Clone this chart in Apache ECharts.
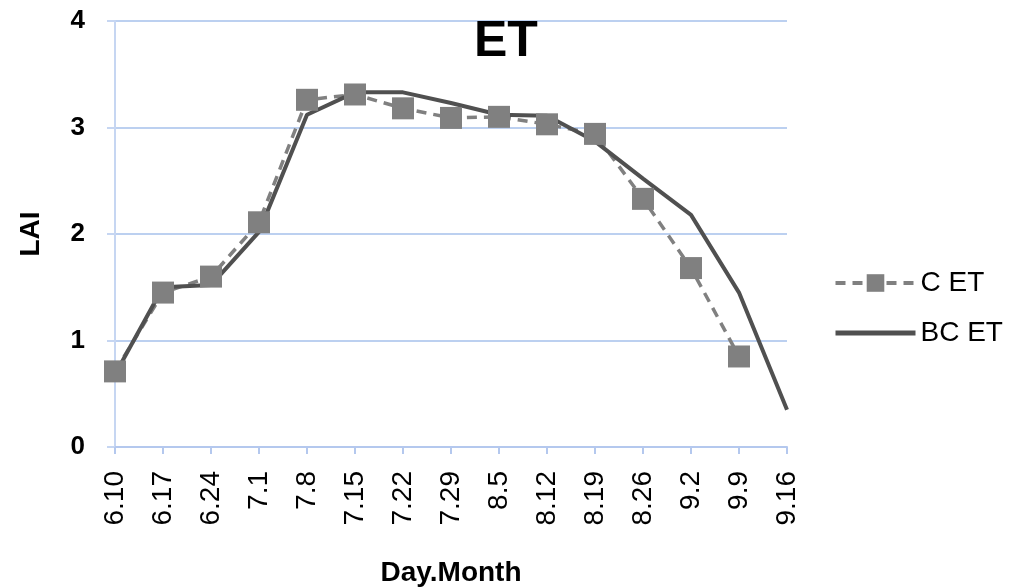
<!DOCTYPE html>
<html><head><meta charset="utf-8">
<script src="https://cdn.jsdelivr.net/npm/echarts@6/dist/echarts.min.js"></script>
<style>html,body{margin:0;padding:0;background:#fff}#c{width:1021px;height:588px}</style>
</head><body><div id="c"></div>
<script>
var categories = ['6.10','6.17','6.24','7.1','7.8','7.15','7.22','7.29','8.5','8.12','8.19','8.26','9.2','9.9','9.16'];
var cET = [0.71,1.45,1.60,2.11,3.26,3.31,3.18,3.09,3.10,3.03,2.94,2.33,1.68,0.85,null];
var bcET = [0.68,1.50,1.52,2.02,3.12,3.33,3.33,3.23,3.12,3.11,2.87,2.52,2.18,1.45,0.35];
var yTicks = [0,1,2,3,4];

var chart = echarts.init(document.getElementById('c'));
var F = 'Liberation Sans, Arial, sans-serif';
chart.setOption({
  animation:false,
  backgroundColor:'#fff',
  title:{text:'ET',left:469,top:12,textStyle:{fontFamily:F,fontSize:50,fontWeight:'bold',color:'#000'}},
  legend:{orient:'vertical',left:828,top:264,itemWidth:80,itemHeight:22,itemGap:22,
    textStyle:{fontFamily:F,fontSize:28,color:'#000'},
    data:[{name:'C ET',lineStyle:{width:4}},{name:'BC ET',itemStyle:{opacity:0},lineStyle:{width:5}}]},
  grid:{left:115,right:234,top:21,bottom:141,outerBoundsMode:'none',containLabel:false},
  xAxis:{type:'category',data:categories,boundaryGap:false,
    name:'Day.Month',nameLocation:'middle',nameGap:112,
    nameTextStyle:{fontFamily:F,fontSize:28,fontWeight:'bold',color:'#000'},
    axisLine:{lineStyle:{color:'#b4c8ee',width:2}},
    axisTick:{show:true,length:7,lineStyle:{color:'#b4c8ee',width:2}},
    axisLabel:{rotate:90,margin:24,fontFamily:F,fontSize:28,color:'#000'},
    splitLine:{show:false}},
  yAxis:{type:'value',min:yTicks[0],max:yTicks[yTicks.length-1],interval:1,
    name:'LAI',nameLocation:'middle',nameGap:70,
    nameTextStyle:{fontFamily:F,fontSize:28,fontWeight:'bold',color:'#000'},
    axisLine:{show:true,lineStyle:{color:'#c6d6f2',width:2}},
    axisTick:{show:true,length:8,lineStyle:{color:'#c6d6f2',width:2}},
    axisLabel:{margin:30,fontFamily:F,fontSize:26,fontWeight:'bold',color:'#000'},
    splitLine:{lineStyle:{color:'#bcd0f0',width:2}}},
  series:[
    {name:'C ET',type:'line',data:cET,symbol:'rect',symbolSize:22,
      lineStyle:{color:'#808080',width:3.5,type:[10,7]},itemStyle:{color:'#808080'}},
    {name:'BC ET',type:'line',data:bcET,symbol:'none',
      lineStyle:{color:'#505050',width:4},itemStyle:{color:'#505050'}}
  ]
});
</script></body></html>
